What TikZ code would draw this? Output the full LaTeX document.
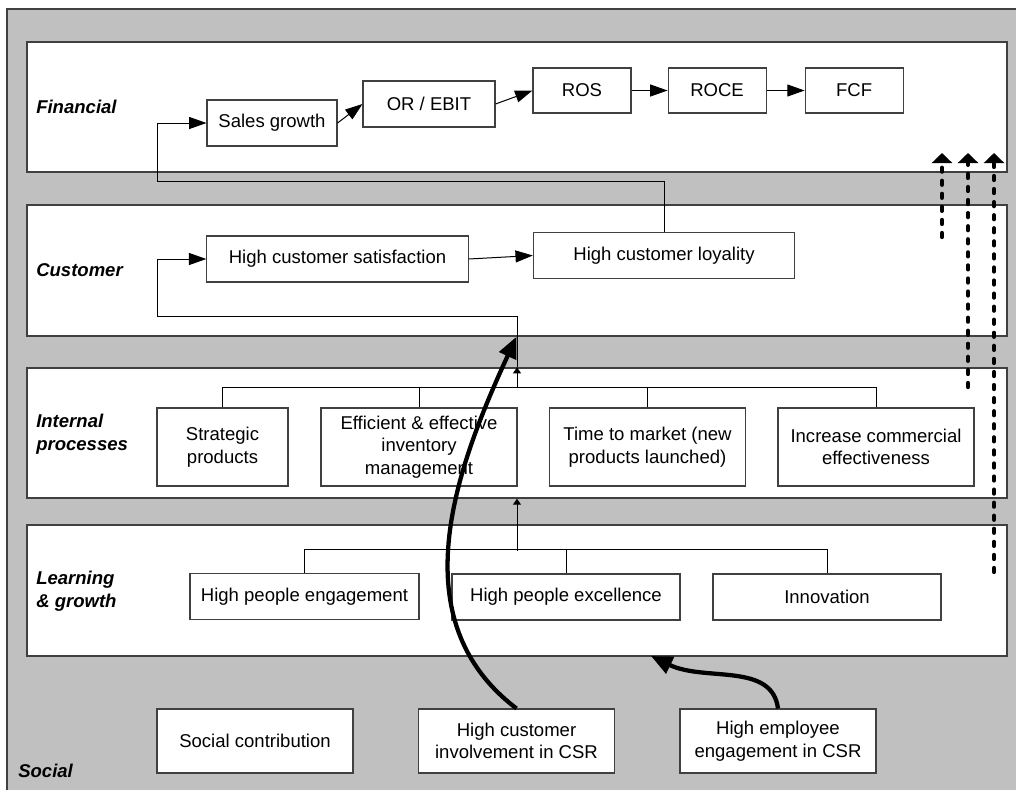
\documentclass[tikz,border=0pt]{standalone}
\usepackage{fontspec}
\setmainfont{Liberation Sans}
\usepackage{tikz}
\usetikzlibrary{arrows.meta,positioning}
\definecolor{BscGray}{HTML}{C0C0C0}
\definecolor{BscFrame}{HTML}{404040}
\newcommand{\bscFont}{\fontsize{13.9}{17}\selectfont}

\begin{document}
\begin{tikzpicture}[
  x=0.75pt,y=-0.75pt,
  band/.style={draw=BscFrame,line width=1pt,fill=white,minimum width=735pt,minimum height=97.5pt,inner sep=0pt},
  box/.style={draw=BscFrame,line width=0.8pt,fill=white,align=center,inner sep=0pt,font=\bscFont},
  finbox/.style={box,minimum width=97.5pt,minimum height=34.5pt},
  kpibox/.style={box,minimum width=73.5pt,minimum height=33.75pt},
  cusbox/.style={box,minimum width=196pt,minimum height=34.5pt},
  intbox/.style={box,minimum width=147pt,minimum height=58.5pt},
  lrnbox/.style={box,minimum width=171pt,minimum height=34.5pt},
  socbox/.style={box,minimum width=147pt,minimum height=48pt},
  lbl/.style={anchor=west,align=left,inner sep=0pt,font=\bscFont\bfseries\itshape},
  edge/.style={-{Triangle[length=13pt,width=9pt]},draw=black,line width=0.75pt},
  tree/.style={draw=black,line width=0.75pt},
  tick/.style={tree,-{Triangle[length=4.5pt,width=6pt]}},
  bigarrow/.style={-{Triangle[length=16pt,width=13.5pt]},draw=black,line width=3.2pt},
  dotarrow/.style={-{Triangle[length=7.5pt,width=15pt]},draw=black,line width=3.2pt,dash pattern=on 3pt off 6.8pt,line cap=round}
]
\useasboundingbox (0,0) rectangle (1016,790);
\fill[BscGray] (7,9) rectangle (1016,790);
\draw[BscFrame,line width=0.8pt] (1016,9) -- (7,9) -- (7,790);

% perspective bands
\node[band] (finband) at (517,107) {};
\node[band,minimum height=98.25pt] (cusband) at (517,270.5) {};
\node[band] (intband) at (517,433) {};
\node[band,minimum height=98.25pt] (lrnband) at (517,590.5) {};

\node[lbl] (finlbl) at (36,107) {Financial};
\node[lbl] (cuslbl) at (36,270) {Customer};
\node[lbl] (intlbl) at (36,434) {Internal\\processes};
\node[lbl] (lrnlbl) at (36,591) {Learning\\\& growth};
\node[lbl] (soclbl) at (18,771) {Social};

% financial
\node[finbox] (sales) at (272,123) {Sales growth};
\node[finbox,minimum width=99pt] (orebit) at (429,104) {OR / EBIT};
\node[kpibox] (ros) at (582,90.5) {ROS};
\node[kpibox,right=27pt of ros] (roce) {ROCE};
\node[kpibox,right=28.5pt of roce] (fcf) {FCF};

% customer
\node[cusbox] (satis) at (337.5,259) {High customer satisfaction};
\node[cusbox] (loyal) at (664,255.5) {High customer loyality};

% internal processes
\node[intbox,minimum width=98.25pt] (strat) at (222.5,447) {Strategic\\products};
\node[intbox] (effic) at (419,447) {Efficient \& effective\\inventory\\management};
\node[intbox] (ttm) at (647.5,447) {Time to market (new\\products launched)};
\node[intbox] (incr) at (876,447) {Increase commercial\\effectiveness};

% learning & growth
\node[lrnbox,minimum width=171.75pt] (engag) at (304.5,596.5) {High people engagement};
\node[lrnbox] (excel) at (566,597) {High people excellence};
\node[lrnbox] (innov) at (827,597) {Innovation};

% social
\node[socbox] (socc) at (255,741) {Social contribution};
\node[socbox] (custcsr) at (516.5,741) {High customer\\involvement in CSR};
\node[socbox] (empcsr) at (778,741) {High employee\\engagement in CSR};

\draw[edge] (sales.east) -- (orebit.west);
\draw[edge] (orebit.east) -- (ros.west);
\draw[edge] (ros) -- (roce);
\draw[edge] (roce) -- (fcf);
\draw[edge] (satis.east) -- (loyal.west);

\coordinate (ffb) at (157,181);
\draw[edge] (loyal.north) |- (ffb) |- (sales.west);

\draw[tree] (strat.north) -- ++(0,-20) -| (incr.north);
\draw[tree] (effic.north) -- ++(0,-20);
\draw[tree] (ttm.north) -- ++(0,-20);
\coordinate (ipj) at (517,388);
\draw[tick] (ipj) -- (ipj |- intband.north);
\coordinate (cfb) at (157,316);
\draw[edge] (ipj |- intband.north) |- (cfb) |- (satis.west);

\draw[tree] (engag.north) -- ++(0,-23) -| (innov.north);
\draw[tree] (excel.north) -- ++(0,-23);
\coordinate (lgj) at (517,551);
\draw[tick] (lgj) -- (lgj |- intband.south);

% CSR drivers
\coordinate (lgin) at (651,656);
\draw[bigarrow] (custcsr.north) .. controls (400,620) and (455,470) .. (custcsr.north |- cusband.south);
\draw[bigarrow] (empcsr.north) .. controls (772,662) and (705,682) .. (lgin);

\foreach \x/\y [count=\i] in {942/237,968/387,994/572}{
  \coordinate (dot\i) at (\x,\y);
  \coordinate (tip\i) at (\x,153);
  \draw[dotarrow] (dot\i) -- (tip\i);
}
\end{tikzpicture}
\end{document}
